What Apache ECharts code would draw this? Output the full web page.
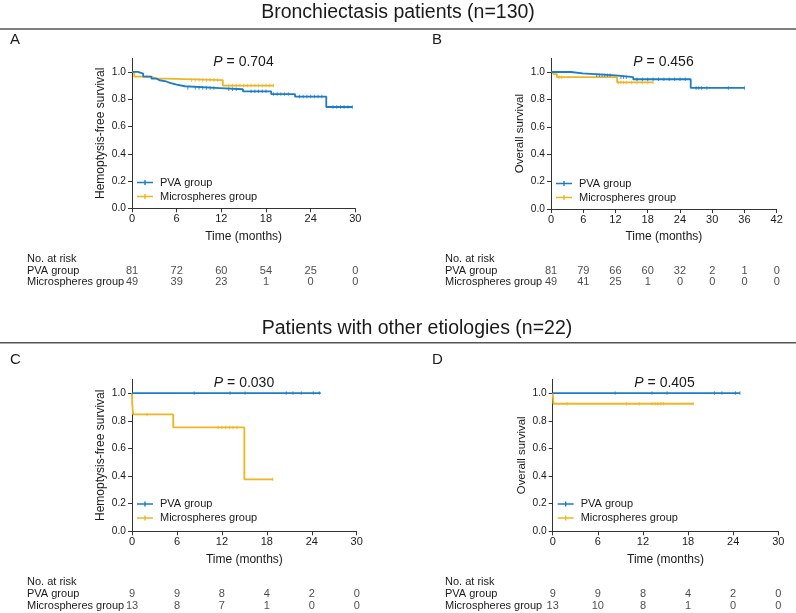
<!DOCTYPE html>
<html><head><meta charset="utf-8">
<script src="https://cdn.jsdelivr.net/npm/echarts@6/dist/echarts.min.js"></script>
<style>html,body{margin:0;padding:0;background:#fff}#c{width:796px;height:613px}</style>
</head><body><div id="c"></div>
<script>
// ---------- DATA ----------
const sectionTitles = ['Bronchiectasis patients (n=130)', 'Patients with other etiologies (n=22)'];
const panelLetters = ['A', 'B', 'C', 'D'];
const pValues = ['0.704', '0.456', '0.030', '0.405'];
const yNames = ['Hemoptysis-free survival', 'Overall survival', 'Hemoptysis-free survival', 'Overall survival'];
const xName = 'Time (months)';
const groups = ['PVA group', 'Microspheres group'];
const riskHeader = 'No. at risk';
const xMaxes = [30, 42, 30, 30];
const yTicks = [0, 0.2, 0.4, 0.6, 0.8, 1.0];

// Kaplan-Meier steps: [time, survival after step]
const aPva = [[0,1],[0.8,0.988],[1.5,0.966],[2.6,0.951],[3.3,0.939],[3.7,0.930],[4.6,0.920],[5.1,0.907],[6.0,0.895],[7.1,0.882],[11.8,0.873],[14.9,0.858],[18.7,0.838],[21.9,0.819],[26.1,0.743],[29.6,0.743]];
const aMic = [[0,1],[0.3,0.966],[2.5,0.953],[3.3,0.940],[12.2,0.900],[19.0,0.900]];
const bPva = [[0,1],[3.7,0.990],[5.9,0.976],[12.0,0.962],[15.3,0.947],[26.0,0.884],[36.0,0.884]];
const bMic = [[0,1],[0.4,0.985],[1.1,0.962],[12.3,0.924],[19.0,0.924]];
const cPva = [[0,1],[25.2,1]];
const cMic = [[0,1],[0.03,0.923],[0.15,0.846],[5.5,0.752],[15.0,0.376],[18.8,0.376]];
const dPva = [[0,1],[24.9,1]];
const dMic = [[0,1],[0.1,0.923],[18.7,0.923]];

// censored times
const aPvaCens = [7.5,8.5,9,9.5,10,10.5,11,13,13.5,14,16,16.5,17,17.5,18,19,19.5,20,20.5,21,22.5,23,23.5,24,24.5,25,25.5,27,27.5,28,28.5,29,29.6];
const aMicCens = [2,8,8.5,9,9.5,10,10.5,11,11.5,13,13.5,14,14.5,15,15.5,16,16.5,17,17.5,18,18.5,19];
const bPvaCens = [8.5,9,9.5,10,10.5,11,13,13.5,14,16,17,18,19,20,21,22,23,24,25,27,27.5,28,29,33,36];
const bMicCens = [1.5,2,12.5,13,13.5,14,15,16,17,18,19];
const cPvaCens = [8.3,13.1,15.1,20.6,21.5,22.6,24.2,25.0];
const cMicCens = [2,11.5,12,12.5,13,13.5,14,18.8];
const dPvaCens = [8.3,13.2,15.2,21.5,22.5,24.3,24.9];
const dMicCens = [1.9,9.8,11.5,13.2,13.6,14,14.4,14.7,18.7];

// numbers at risk
const riskTimes30 = [0, 6, 12, 18, 24, 30];
const riskTimes42 = [0, 6, 12, 18, 24, 30, 36, 42];
const aRiskPva = [81, 72, 60, 54, 25, 0];
const aRiskMic = [49, 39, 23, 1, 0, 0];
const bRiskPva = [81, 79, 66, 60, 32, 2, 1, 0];
const bRiskMic = [49, 41, 25, 1, 0, 0, 0, 0];
const cRiskPva = [9, 9, 8, 4, 2, 0];
const cRiskMic = [13, 8, 7, 1, 0, 0];
const dRiskPva = [9, 9, 8, 4, 2, 0];
const dRiskMic = [13, 10, 8, 1, 0, 0];

// ---------- LAYOUT / STYLE ----------
const FONT = '"Liberation Sans", Arial, Helvetica, sans-serif';
const BLUE = '#1c7cc8', YEL = '#f0b522', TXT = '#1a1a1a', AX = '#333';

const panels = [
  {curves:[aPva,aMic], cens:[aPvaCens,aMicCens], risk:[aRiskPva,aRiskMic], times:riskTimes30,
   g:{left:132, top:58.3, width:223.3, height:150}, rg:{top:265, height:23}, yNameSize:12, labelX:27, rowY:258.5, legTop:177},
  {curves:[bPva,bMic], cens:[bPvaCens,bMicCens], risk:[bRiskPva,bRiskMic], times:riskTimes42,
   g:{left:551, top:58.3, width:225.7, height:150.7}, rg:{top:265, height:23}, yNameSize:11.6, labelX:445, rowY:258.5, legTop:178},
  {curves:[cPva,cMic], cens:[cPvaCens,cMicCens], risk:[cRiskPva,cRiskMic], times:riskTimes30,
   g:{left:132, top:379.3, width:224.7, height:152}, rg:{top:588.5, height:23}, yNameSize:12, labelX:27, rowY:582, legTop:498.5},
  {curves:[dPva,dMic], cens:[dPvaCens,dMicCens], risk:[dRiskPva,dRiskMic], times:riskTimes30,
   g:{left:552.7, top:379.3, width:225.6, height:152}, rg:{top:588.5, height:23}, yNameSize:11.4, labelX:445, rowY:582, legTop:498.5}
];
const letterPos = [[10,40],[432,40],[10,360],[432,360]];
const pPos = [[243.5,62],[663.5,62.3],[244,382.7],[664.5,382.7]];
const titlePos = [[398,12.5],[417,329]];
const rulePos = [29, 342.7];

function survAt(curve, t) { let s = curve[0][1]; for (const [x, y] of curve) if (x <= t) s = y; return s; }

const grid = [], xAxis = [], yAxis = [], series = [], legend = [], graphic = [];
const colors = [BLUE, YEL];
const legendIcon = 'path://M0,3L16,3L16,4.6L0,4.6Z M7.3,1.2L8.7,1.2L8.7,6.4L7.3,6.4Z';

panels.forEach((p, i) => {
  const xMax = xMaxes[i];
  grid.push({left:p.g.left, top:p.g.top, width:p.g.width, height:p.g.height, containLabel:false});
  xAxis.push({type:'value', gridIndex:2*i, min:0, max:xMax, interval:6,
    name:xName, nameLocation:'middle', nameGap:22,
    nameTextStyle:{fontFamily:FONT, fontSize:12, color:TXT},
    axisLine:{lineStyle:{color:AX, width:1}}, axisTick:{length:4, lineStyle:{color:AX}},
    axisLabel:{fontFamily:FONT, fontSize:11, color:TXT, margin:5}, splitLine:{show:false}});
  yAxis.push({type:'value', gridIndex:2*i, min:0, max:1.1,
    name:yNames[i], nameLocation:'middle', nameGap:25, nameRotate:90,
    nameTextStyle:{fontFamily:FONT, fontSize:p.yNameSize, color:TXT},
    axisLine:{show:true, lineStyle:{color:AX, width:1}},
    axisTick:{show:true, length:4, customValues:yTicks, lineStyle:{color:AX}},
    axisLabel:{fontFamily:FONT, fontSize:10.2, color:TXT, margin:6, customValues:yTicks,
      formatter:v => v.toFixed(1)}, splitLine:{show:false}});
  grid.push({left:p.g.left, width:p.g.width, top:p.rg.top, height:p.rg.height});
  xAxis.push({type:'value', gridIndex:2*i+1, min:0, max:xMax, show:false});
  yAxis.push({type:'category', gridIndex:2*i+1, data:groups, inverse:true, show:false});

  p.curves.forEach((c, k) => {
    series.push({name:groups[k], type:'line', step:'end', xAxisIndex:2*i, yAxisIndex:2*i,
      data:c, showSymbol:false, symbol:'none', animation:false,
      lineStyle:{color:colors[k], width:1.8}, itemStyle:{color:colors[k]}, z:k===0?3:2});
    series.push({name:groups[k]+' censored', type:'scatter', xAxisIndex:2*i, yAxisIndex:2*i,
      data:p.cens[k].map(t => [t, survAt(c, t)]), symbol:'rect', symbolSize:[1,3.5],
      itemStyle:{color:colors[k]}, animation:false, silent:true, z:k===0?3:2});
    series.push({name:groups[k]+' at risk', type:'scatter', xAxisIndex:2*i+1, yAxisIndex:2*i+1,
      data:p.risk[k].map((n, j) => [p.times[j], groups[k], n]), symbolSize:1,
      itemStyle:{color:'transparent'}, animation:false, silent:true,
      label:{show:true, position:'inside', formatter:q => String(q.value[2]),
        fontFamily:FONT, fontSize:11, color:TXT}});
  });

  legend.push({data:groups, orient:'vertical', left:p.g.left + 5, top:p.legTop, itemGap:3,
    itemWidth:16, itemHeight:7, icon:legendIcon, selectedMode:false,
    textStyle:{fontFamily:FONT, fontSize:11, color:TXT, padding:[0,0,0,2]}, padding:0});

  graphic.push({type:'text', x:letterPos[i][0], y:letterPos[i][1],
    style:{text:panelLetters[i], font:'15px ' + FONT, fill:TXT, textVerticalAlign:'middle'}});
  graphic.push({type:'text', x:pPos[i][0], y:pPos[i][1],
    style:{text:'{i|P} = ' + pValues[i], font:'14px ' + FONT, fill:TXT, textAlign:'center', textVerticalAlign:'middle',
      rich:{i:{fontStyle:'italic', font:'italic 14px ' + FONT, fill:TXT}}}});
  graphic.push({type:'text', x:p.labelX, y:p.rowY,
    style:{text:riskHeader, font:'11px ' + FONT, fill:TXT, textVerticalAlign:'middle'}});
  groups.forEach((gname, k) => {
    graphic.push({type:'text', x:p.labelX, y:p.rg.top + p.rg.height * (k * 2 + 1) / 4,
      style:{text:gname, font:'11px ' + FONT, fill:TXT, textVerticalAlign:'middle'}});
  });
});

sectionTitles.forEach((t, i) => {
  graphic.push({type:'text', x:titlePos[i][0], y:titlePos[i][1],
    style:{text:t, font:'19.5px ' + FONT, fill:TXT, textAlign:'center', textVerticalAlign:'middle'}});
  graphic.push({type:'rect', shape:{x:0, y:rulePos[i] - 0.8, width:796, height:1.6}, style:{fill:'#555'}});
});

const chart = echarts.init(document.getElementById('c'), null, {renderer:'canvas'});
chart.setOption({animation:false, backgroundColor:'#fff', grid, xAxis, yAxis, series, legend, graphic});
</script></body></html>
